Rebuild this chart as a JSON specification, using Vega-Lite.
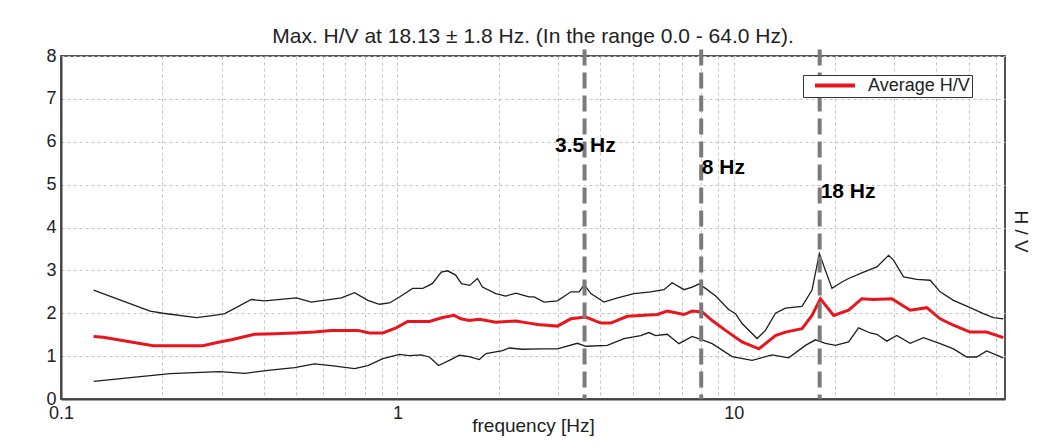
{
  "$schema": "https://vega.github.io/schema/vega-lite/v6.json",
  "width": 944,
  "height": 343,
  "autosize": {"type": "none"},
  "padding": {"left": 61, "top": 56, "right": 49, "bottom": 49},
  "background": "white",
  "config": {
    "font": "Liberation Sans",
    "view": {"stroke": "#555555", "strokeWidth": 2}
  },
  "title": {
    "text": "Max. H/V at 18.13 ± 1.8 Hz. (In the range 0.0 - 64.0 Hz).",
    "fontSize": 21,
    "fontWeight": "normal",
    "color": "#222222",
    "anchor": "middle",
    "baseline": "alphabetic",
    "offset": -17
  },
  "datasets": {
    "hv": [
      {"f": 0.125, "v": 2.54, "s": "upper"}, {"f": 0.184, "v": 2.05, "s": "upper"}, {"f": 0.201, "v": 2.0, "s": "upper"}, {"f": 0.253, "v": 1.9, "s": "upper"}, {"f": 0.296, "v": 1.97, "s": "upper"}, {"f": 0.307, "v": 1.99, "s": "upper"}, {"f": 0.368, "v": 2.32, "s": "upper"}, {"f": 0.403, "v": 2.29, "s": "upper"}, {"f": 0.501, "v": 2.36, "s": "upper"}, {"f": 0.555, "v": 2.26, "s": "upper"}, {"f": 0.681, "v": 2.36, "s": "upper"}, {"f": 0.746, "v": 2.48, "s": "upper"}, {"f": 0.817, "v": 2.3, "s": "upper"}, {"f": 0.884, "v": 2.21, "s": "upper"}, {"f": 0.947, "v": 2.24, "s": "upper"}, {"f": 1.014, "v": 2.38, "s": "upper"}, {"f": 1.11, "v": 2.58, "s": "upper"}, {"f": 1.19, "v": 2.58, "s": "upper"}, {"f": 1.27, "v": 2.69, "s": "upper"}, {"f": 1.35, "v": 2.96, "s": "upper"}, {"f": 1.41, "v": 2.99, "s": "upper"}, {"f": 1.49, "v": 2.89, "s": "upper"}, {"f": 1.55, "v": 2.69, "s": "upper"}, {"f": 1.64, "v": 2.65, "s": "upper"}, {"f": 1.73, "v": 2.81, "s": "upper"}, {"f": 1.79, "v": 2.61, "s": "upper"}, {"f": 1.96, "v": 2.46, "s": "upper"}, {"f": 2.1, "v": 2.4, "s": "upper"}, {"f": 2.25, "v": 2.47, "s": "upper"}, {"f": 2.46, "v": 2.38, "s": "upper"}, {"f": 2.55, "v": 2.38, "s": "upper"}, {"f": 2.73, "v": 2.26, "s": "upper"}, {"f": 2.99, "v": 2.29, "s": "upper"}, {"f": 3.28, "v": 2.5, "s": "upper"}, {"f": 3.47, "v": 2.5, "s": "upper"}, {"f": 3.59, "v": 2.67, "s": "upper"}, {"f": 3.76, "v": 2.46, "s": "upper"}, {"f": 4.11, "v": 2.26, "s": "upper"}, {"f": 4.51, "v": 2.36, "s": "upper"}, {"f": 5.05, "v": 2.46, "s": "upper"}, {"f": 5.66, "v": 2.5, "s": "upper"}, {"f": 6.2, "v": 2.55, "s": "upper"}, {"f": 6.56, "v": 2.71, "s": "upper"}, {"f": 7.11, "v": 2.55, "s": "upper"}, {"f": 7.52, "v": 2.61, "s": "upper"}, {"f": 7.87, "v": 2.68, "s": "upper"}, {"f": 8.24, "v": 2.58, "s": "upper"}, {"f": 8.83, "v": 2.4, "s": "upper"}, {"f": 9.67, "v": 2.08, "s": "upper"}, {"f": 10.12, "v": 1.99, "s": "upper"}, {"f": 10.58, "v": 1.76, "s": "upper"}, {"f": 11.73, "v": 1.41, "s": "upper"}, {"f": 12.42, "v": 1.6, "s": "upper"}, {"f": 13.3, "v": 2.0, "s": "upper"}, {"f": 14.24, "v": 2.12, "s": "upper"}, {"f": 15.95, "v": 2.16, "s": "upper"}, {"f": 17.08, "v": 2.54, "s": "upper"}, {"f": 17.96, "v": 3.39, "s": "upper"}, {"f": 18.72, "v": 3.0, "s": "upper"}, {"f": 19.58, "v": 2.58, "s": "upper"}, {"f": 20.97, "v": 2.73, "s": "upper"}, {"f": 21.94, "v": 2.81, "s": "upper"}, {"f": 24.31, "v": 2.96, "s": "upper"}, {"f": 26.63, "v": 3.08, "s": "upper"}, {"f": 28.84, "v": 3.35, "s": "upper"}, {"f": 29.84, "v": 3.24, "s": "upper"}, {"f": 31.96, "v": 2.85, "s": "upper"}, {"f": 34.99, "v": 2.79, "s": "upper"}, {"f": 38.35, "v": 2.77, "s": "upper"}, {"f": 41.06, "v": 2.5, "s": "upper"}, {"f": 44.96, "v": 2.3, "s": "upper"}, {"f": 50.41, "v": 2.13, "s": "upper"}, {"f": 55.19, "v": 1.99, "s": "upper"}, {"f": 59.08, "v": 1.9, "s": "upper"}, {"f": 63.27, "v": 1.87, "s": "upper"},
      {"f": 0.125, "v": 1.46, "s": "Average H/V"}, {"f": 0.1335, "v": 1.44, "s": "Average H/V"}, {"f": 0.188, "v": 1.24, "s": "Average H/V"}, {"f": 0.264, "v": 1.24, "s": "Average H/V"}, {"f": 0.296, "v": 1.33, "s": "Average H/V"}, {"f": 0.321, "v": 1.38, "s": "Average H/V"}, {"f": 0.376, "v": 1.51, "s": "Average H/V"}, {"f": 0.432, "v": 1.52, "s": "Average H/V"}, {"f": 0.495, "v": 1.54, "s": "Average H/V"}, {"f": 0.567, "v": 1.56, "s": "Average H/V"}, {"f": 0.636, "v": 1.6, "s": "Average H/V"}, {"f": 0.763, "v": 1.6, "s": "Average H/V"}, {"f": 0.826, "v": 1.54, "s": "Average H/V"}, {"f": 0.905, "v": 1.54, "s": "Average H/V"}, {"f": 0.991, "v": 1.66, "s": "Average H/V"}, {"f": 1.073, "v": 1.81, "s": "Average H/V"}, {"f": 1.245, "v": 1.81, "s": "Average H/V"}, {"f": 1.363, "v": 1.9, "s": "Average H/V"}, {"f": 1.476, "v": 1.95, "s": "Average H/V"}, {"f": 1.545, "v": 1.87, "s": "Average H/V"}, {"f": 1.635, "v": 1.83, "s": "Average H/V"}, {"f": 1.751, "v": 1.86, "s": "Average H/V"}, {"f": 1.963, "v": 1.79, "s": "Average H/V"}, {"f": 2.25, "v": 1.82, "s": "Average H/V"}, {"f": 2.464, "v": 1.77, "s": "Average H/V"}, {"f": 2.608, "v": 1.74, "s": "Average H/V"}, {"f": 2.99, "v": 1.7, "s": "Average H/V"}, {"f": 3.277, "v": 1.87, "s": "Average H/V"}, {"f": 3.631, "v": 1.91, "s": "Average H/V"}, {"f": 4.023, "v": 1.77, "s": "Average H/V"}, {"f": 4.307, "v": 1.77, "s": "Average H/V"}, {"f": 4.825, "v": 1.93, "s": "Average H/V"}, {"f": 5.922, "v": 1.97, "s": "Average H/V"}, {"f": 6.34, "v": 2.05, "s": "Average H/V"}, {"f": 7.106, "v": 1.97, "s": "Average H/V"}, {"f": 7.522, "v": 2.05, "s": "Average H/V"}, {"f": 8.052, "v": 2.03, "s": "Average H/V"}, {"f": 8.624, "v": 1.83, "s": "Average H/V"}, {"f": 9.45, "v": 1.6, "s": "Average H/V"}, {"f": 10.58, "v": 1.33, "s": "Average H/V"}, {"f": 11.87, "v": 1.17, "s": "Average H/V"}, {"f": 13.3, "v": 1.48, "s": "Average H/V"}, {"f": 14.24, "v": 1.56, "s": "Average H/V"}, {"f": 15.95, "v": 1.64, "s": "Average H/V"}, {"f": 17.08, "v": 1.95, "s": "Average H/V"}, {"f": 18.09, "v": 2.34, "s": "Average H/V"}, {"f": 18.72, "v": 2.19, "s": "Average H/V"}, {"f": 19.81, "v": 1.95, "s": "Average H/V"}, {"f": 21.94, "v": 2.07, "s": "Average H/V"}, {"f": 24.03, "v": 2.34, "s": "Average H/V"}, {"f": 26.03, "v": 2.32, "s": "Average H/V"}, {"f": 29.49, "v": 2.34, "s": "Average H/V"}, {"f": 33.45, "v": 2.07, "s": "Average H/V"}, {"f": 37.47, "v": 2.13, "s": "Average H/V"}, {"f": 41.06, "v": 1.87, "s": "Average H/V"}, {"f": 44.96, "v": 1.72, "s": "Average H/V"}, {"f": 50.41, "v": 1.56, "s": "Average H/V"}, {"f": 56.44, "v": 1.56, "s": "Average H/V"}, {"f": 63.27, "v": 1.43, "s": "Average H/V"},
      {"f": 0.125, "v": 0.41, "s": "lower"}, {"f": 0.175, "v": 0.53, "s": "lower"}, {"f": 0.211, "v": 0.59, "s": "lower"}, {"f": 0.296, "v": 0.64, "s": "lower"}, {"f": 0.352, "v": 0.6, "s": "lower"}, {"f": 0.412, "v": 0.67, "s": "lower"}, {"f": 0.495, "v": 0.73, "s": "lower"}, {"f": 0.567, "v": 0.82, "s": "lower"}, {"f": 0.636, "v": 0.78, "s": "lower"}, {"f": 0.746, "v": 0.71, "s": "lower"}, {"f": 0.817, "v": 0.78, "s": "lower"}, {"f": 0.905, "v": 0.94, "s": "lower"}, {"f": 1.014, "v": 1.04, "s": "lower"}, {"f": 1.085, "v": 1.01, "s": "lower"}, {"f": 1.176, "v": 1.03, "s": "lower"}, {"f": 1.245, "v": 0.98, "s": "lower"}, {"f": 1.326, "v": 0.78, "s": "lower"}, {"f": 1.427, "v": 0.9, "s": "lower"}, {"f": 1.528, "v": 1.02, "s": "lower"}, {"f": 1.635, "v": 0.99, "s": "lower"}, {"f": 1.751, "v": 0.92, "s": "lower"}, {"f": 1.834, "v": 1.06, "s": "lower"}, {"f": 2.054, "v": 1.13, "s": "lower"}, {"f": 2.15, "v": 1.19, "s": "lower"}, {"f": 2.353, "v": 1.16, "s": "lower"}, {"f": 2.67, "v": 1.17, "s": "lower"}, {"f": 2.99, "v": 1.17, "s": "lower"}, {"f": 3.428, "v": 1.3, "s": "lower"}, {"f": 3.631, "v": 1.23, "s": "lower"}, {"f": 4.207, "v": 1.25, "s": "lower"}, {"f": 4.717, "v": 1.41, "s": "lower"}, {"f": 5.285, "v": 1.48, "s": "lower"}, {"f": 5.595, "v": 1.55, "s": "lower"}, {"f": 5.857, "v": 1.48, "s": "lower"}, {"f": 6.34, "v": 1.51, "s": "lower"}, {"f": 6.868, "v": 1.29, "s": "lower"}, {"f": 7.522, "v": 1.46, "s": "lower"}, {"f": 8.052, "v": 1.38, "s": "lower"}, {"f": 8.624, "v": 1.29, "s": "lower"}, {"f": 9.886, "v": 0.99, "s": "lower"}, {"f": 11.33, "v": 0.9, "s": "lower"}, {"f": 12.99, "v": 1.03, "s": "lower"}, {"f": 14.56, "v": 0.96, "s": "lower"}, {"f": 16.33, "v": 1.25, "s": "lower"}, {"f": 17.48, "v": 1.38, "s": "lower"}, {"f": 18.72, "v": 1.3, "s": "lower"}, {"f": 20.04, "v": 1.25, "s": "lower"}, {"f": 21.94, "v": 1.33, "s": "lower"}, {"f": 23.49, "v": 1.66, "s": "lower"}, {"f": 25.44, "v": 1.54, "s": "lower"}, {"f": 26.63, "v": 1.51, "s": "lower"}, {"f": 28.5, "v": 1.35, "s": "lower"}, {"f": 30.51, "v": 1.48, "s": "lower"}, {"f": 33.45, "v": 1.3, "s": "lower"}, {"f": 36.64, "v": 1.43, "s": "lower"}, {"f": 41.06, "v": 1.29, "s": "lower"}, {"f": 44.96, "v": 1.17, "s": "lower"}, {"f": 49.25, "v": 0.98, "s": "lower"}, {"f": 52.72, "v": 0.98, "s": "lower"}, {"f": 56.44, "v": 1.12, "s": "lower"}, {"f": 63.27, "v": 0.96, "s": "lower"}
    ],
    "markers": [
      {"f": 3.6, "label": "3.5 Hz"},
      {"f": 8.0, "label": "8 Hz"},
      {"f": 18.0, "label": "18 Hz"}
    ],
    "labels": [
      {"f": 2.94, "v": 5.76, "label": "3.5 Hz"},
      {"f": 8.03, "v": 5.24, "label": "8 Hz"},
      {"f": 18.12, "v": 4.68, "label": "18 Hz"}
    ]
  },
  "encoding": {
    "x": {
      "field": "f", "type": "quantitative",
      "scale": {"type": "log", "domain": [0.1, 64], "nice": false},
      "axis": {
        "orient": "bottom",
        "values": [0.1, 0.2, 0.3, 0.4, 0.5, 0.6, 0.7, 0.8, 0.9, 1, 2, 3, 4, 5, 6, 7, 8, 9, 10, 20, 30, 40, 50, 60],
        "labelExpr": "datum.value == 0.1 ? '0.1' : (datum.value == 1 ? '1' : (datum.value == 10 ? '10' : ''))",
        "labelOverlap": false,
        "labelFlush": false,
        "grid": true,
        "gridColor": "#c4c4c4",
        "gridDash": [3, 3],
        "gridWidth": 1,
        "ticks": false,
        "domainColor": "#444444",
        "domainWidth": 2,
        "labelFontSize": 18,
        "labelColor": "#222222",
        "labelPadding": 5,
        "title": "frequency [Hz]",
        "titleFontSize": 19,
        "titleFontWeight": "normal",
        "titleColor": "#222222",
        "titlePadding": -6
      }
    }
  },
  "resolve": {"axis": {"y": "independent"}},
  "layer": [
    {
      "data": {"name": "hv"},
      "transform": [{"filter": "datum.s != 'Average H/V'"}],
      "mark": {"type": "line", "color": "#1e1e1e", "strokeWidth": 1.3},
      "encoding": {
        "y": {
          "field": "v", "type": "quantitative",
          "scale": {"domain": [0, 8], "nice": false},
          "axis": {
            "orient": "left",
            "values": [0, 1, 2, 3, 4, 5, 6, 7, 8],
            "grid": true,
            "gridColor": "#c4c4c4",
            "gridDash": [3, 3],
            "gridWidth": 1,
            "ticks": false,
            "domainColor": "#444444",
            "domainWidth": 2,
            "labelFontSize": 18,
            "labelColor": "#222222",
            "labelPadding": 5,
            "title": null
          }
        },
        "detail": {"field": "s"}
      }
    },
    {
      "data": {"name": "hv"},
      "transform": [{"filter": "datum.s == 'Average H/V'"}],
      "mark": {"type": "line", "strokeWidth": 3},
      "encoding": {
        "y": {
          "field": "v", "type": "quantitative",
          "axis": {
            "orient": "right",
            "labels": false,
            "ticks": false,
            "domain": false,
            "grid": false,
            "title": "H / V",
            "titleAngle": 90,
            "titleFontSize": 19,
            "titleFontWeight": "normal",
            "titleColor": "#222222",
            "titlePadding": 5,
            "titleY": 175
          }
        },
        "color": {
          "field": "s", "type": "nominal",
          "scale": {"domain": ["Average H/V"], "range": ["#e8161c"]},
          "legend": {
            "orient": "none",
            "legendX": 742,
            "legendY": 19,
            "title": null,
            "symbolType": "stroke",
            "symbolSize": 1600,
            "symbolStrokeWidth": 4,
            "symbolOffset": 8,
            "clipHeight": 17,
            "padding": 2,
            "labelFontSize": 18,
            "labelColor": "#222222",
            "labelOffset": 11,
            "labelExpr": "datum.label + '\u00a0\u00a0\u00a0\u00a0'",
            "strokeColor": "#333333",
            "fillColor": "#ffffff"
          }
        }
      }
    },
    {
      "data": {"name": "markers"},
      "mark": {"type": "rule", "color": "#7b7b7b", "strokeWidth": 4, "strokeDash": [16, 7], "clip": false},
      "encoding": {
        "y": {"datum": 8.15, "type": "quantitative", "axis": null},
        "y2": {"datum": 0}
      }
    },
    {
      "data": {"name": "labels"},
      "mark": {"type": "text", "align": "left", "baseline": "alphabetic", "fontSize": 21, "fontWeight": "bold", "color": "#000000"},
      "encoding": {
        "y": {"field": "v", "type": "quantitative", "axis": null},
        "text": {"field": "label"}
      }
    }
  ]
}
